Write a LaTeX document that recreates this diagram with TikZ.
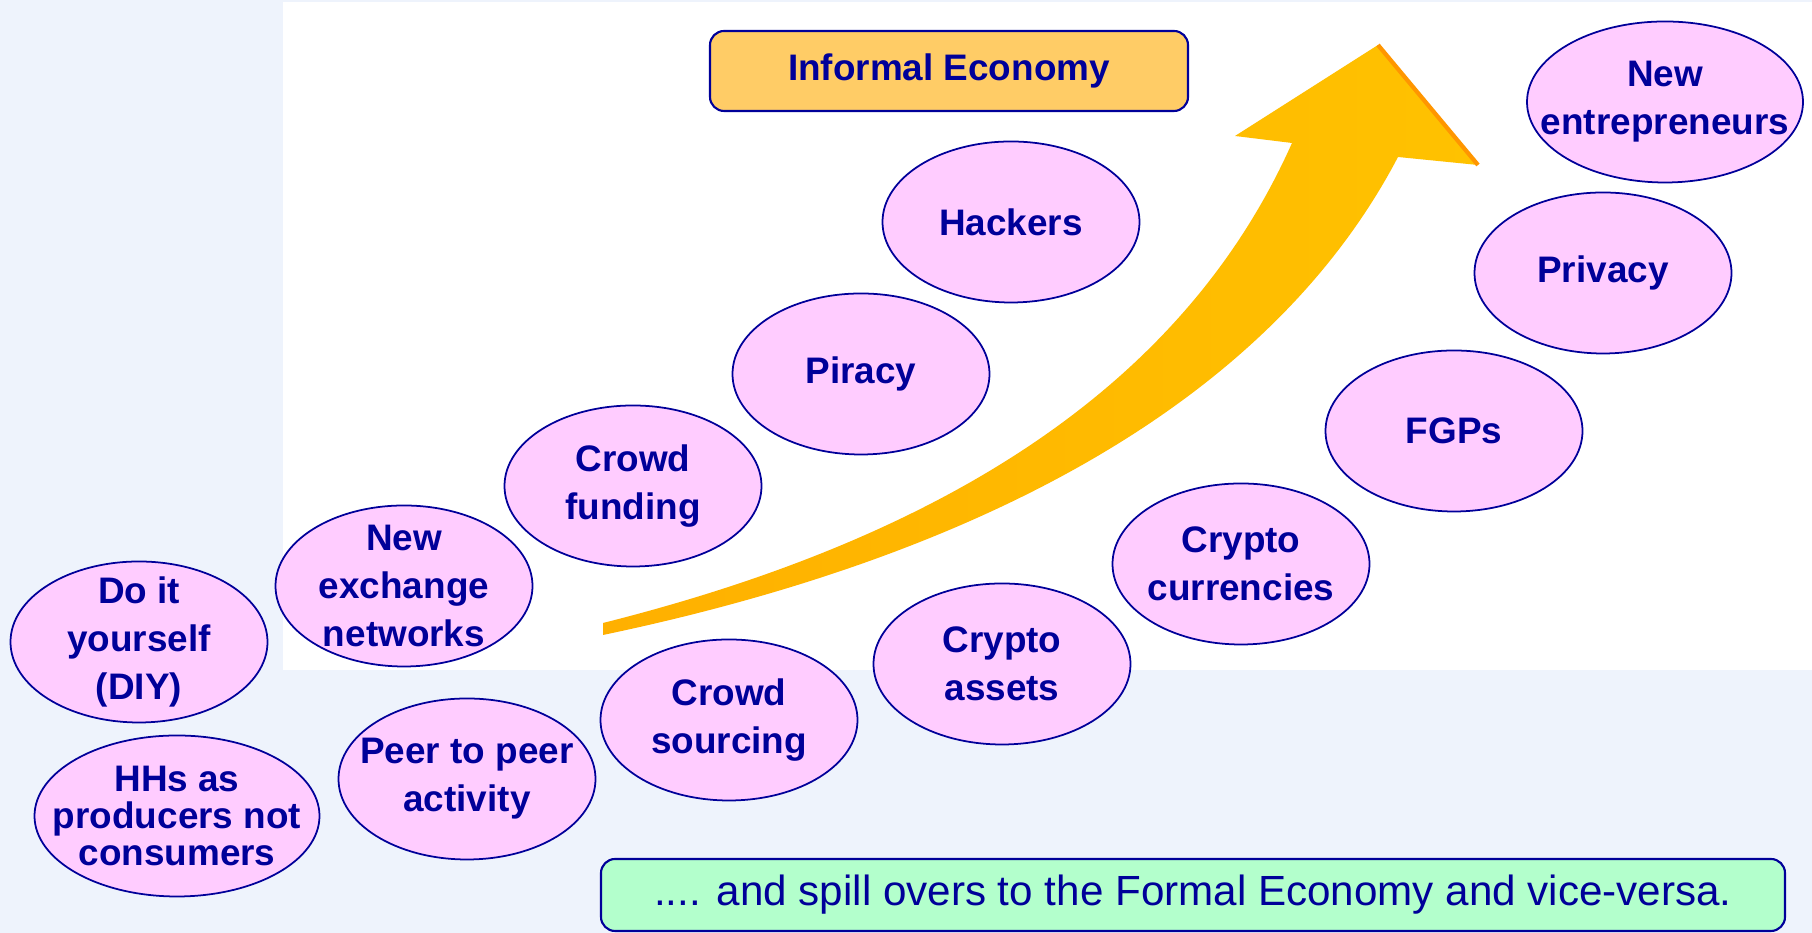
\documentclass[tikz,border=0pt]{standalone}
\usepackage{xcolor}
\usepackage{tikz}
\usepackage{fontspec}
\setmainfont{Liberation Sans}
\definecolor{iedarkblue}{RGB}{0, 0, 153}
\definecolor{iepink}{RGB}{255, 204, 255}
\definecolor{ieorange}{RGB}{255, 204, 102}
\definecolor{iegreen}{RGB}{179, 255, 204}
\definecolor{iearrow}{RGB}{255, 194, 0}
\definecolor{iearrowlow}{RGB}{255, 176, 0}
\definecolor{iearrowdark}{RGB}{255, 150, 0}
\definecolor{iebg}{RGB}{238, 243, 252}
\usetikzlibrary{shapes.geometric,positioning}

\begin{document}
\begin{tikzpicture}[
    bubble/.style={ellipse, draw=iedarkblue, fill=iepink, line width=0.5pt,
        minimum width=2.57cm, minimum height=1.61cm, inner sep=-6mm, align=center,
        text=iedarkblue, font=\fontsize{10.5}{13.7}\selectfont\bfseries},
    banner/.style={draw=iedarkblue, rounded corners=4pt, line width=0.6pt, text=iedarkblue}
    ]
    % Background and white panel
    \useasboundingbox (0,0) rectangle (18.12,9.33);
    \clip (0,0) rectangle (18.12,9.33);
    \fill[iebg] (0,0) rectangle (18.12,9.33);
    \fill[white] (2.83,2.63) rectangle (18.12,9.31);

    % Growth arrow
    \shade[left color=iearrowlow, right color=iearrow]
        (6.03,3.10) .. controls (9.53,3.98) and (11.86,5.52) .. (12.92,7.90)
        -- (12.35,7.97) -- (13.78,8.88) -- (14.78,7.68) -- (13.98,7.76)
        .. controls (12.68,5.28) and (9.75,3.76) .. (6.03,2.98) -- cycle;
    \draw[iearrowdark, line width=1.2pt] (13.78,8.88) -- (14.78,7.68);

    % Title and footer
    \node[banner, fill=ieorange, minimum width=4.78cm, minimum height=0.8cm,
          font=\fontsize{10.5}{13}\selectfont\bfseries] (title) at (9.49,8.62) {Informal Economy};
    \node[banner, fill=iegreen, minimum width=11.84cm, minimum height=0.72cm,
          font=\fontsize{12}{14}\selectfont] (spill) at (11.93,0.38)
          {.... and spill overs to the Formal Economy and vice-versa.};

    % Bubbles
    \node[bubble, minimum width=2.76cm] (newent) at (16.65,8.31) {New\\entrepreneurs};
    \node[bubble] (privacy) at (16.03,6.60) {Privacy};
    \node[bubble] (fgps) at (14.54,5.02) {FGPs};
    \node[bubble] (cryptocur) at (12.41,3.69) {Crypto\\currencies};
    \node[bubble] (cryptoass) at (10.02,2.69) {Crypto\\assets};
    \node[bubble] (crowdsrc) at (7.29,2.13) {Crowd\\sourcing};
    \node[bubble] (peer) at (4.67,1.54) {Peer to peer\\activity};
    \node[bubble, minimum width=2.85cm, font=\fontsize{10.5}{10.6}\selectfont\bfseries] (hhs) at (1.77,1.17)
        {HHs as\\producers not\\consumers};
    \node[bubble] (diy) at (1.39,2.91) {Do it\\yourself\\(DIY)};
    \node[bubble] (newex) at (4.04,3.47) {New\\exchange\\networks};
    \node[bubble] (crowdfund) at (6.33,4.47) {Crowd\\funding};
    \node[bubble] (piracy) at (8.61,5.59) {Piracy};
    \node[bubble] (hackers) at (10.11,7.11) {Hackers};
\end{tikzpicture}
\end{document}
